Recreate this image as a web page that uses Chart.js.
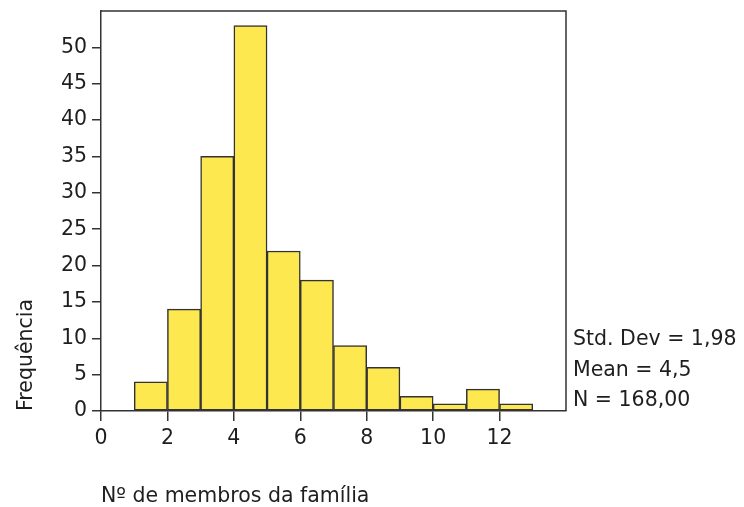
<!DOCTYPE html>
<html>
<head>
<meta charset="utf-8">
<script src="https://cdn.jsdelivr.net/npm/chart.js@4"></script>
<style>
  html, body { margin: 0; padding: 0; background: #fff; }
  #wrap { width: 744px; height: 507px; }
</style>
</head>
<body>
<div id="wrap"><canvas id="myChart"></canvas></div>
<script>
// histogram bins (centre of each unit-wide bin) and counts
var binCentres = [1.5, 2.5, 3.5, 4.5, 5.5, 6.5, 7.5, 8.5, 9.5, 10.5, 11.5, 12.5]
var counts = [4, 14, 35, 53, 22, 18, 9, 6, 2, 1, 3, 1]
var xTicks = [0, 2, 4, 6, 8, 10, 12]
var yTicks = [0, 5, 10, 15, 20, 25, 30, 35, 40, 45, 50]
var statsLines = ['Std. Dev = 1,98', 'Mean = 4,5', 'N = 168,00']

var FONT = 'DejaVu Sans'
var FSIZE = 20.5
var INK = '#1e1e1e'
var FRAME = '#333333'

var points = binCentres.map((c, i) => ({ x: c, y: counts[i] }))

// top/right frame plus the stats block beside the plot
var framePlugin = {
  id: 'frame',
  afterDraw(chart) {
    var ctx = chart.ctx
    var a = chart.chartArea
    ctx.save()
    ctx.strokeStyle = FRAME
    ctx.lineWidth = 1.5
    ctx.beginPath()
    ctx.moveTo(a.left, a.top)
    ctx.lineTo(a.right, a.top)
    ctx.lineTo(a.right, a.bottom)
    ctx.stroke()

    ctx.fillStyle = INK
    ctx.font = FSIZE + 'px "' + FONT + '"'
    ctx.textBaseline = 'middle'
    ctx.textAlign = 'left'
    statsLines.forEach((t, i) => {
      ctx.fillText(t, a.right + 7, 340 + i * 30.5)
    })
    ctx.restore()
  }
}

var ctx = document.getElementById('myChart').getContext('2d')
var myChart = new Chart(ctx, {
  type: 'bar',
  data: {
    datasets: [{
      label: 'Frequência',
      data: points,
      backgroundColor: '#fde84f',
      borderColor: FRAME,
      borderWidth: 1.5,
      borderSkipped: false,
      barPercentage: 1,
      categoryPercentage: 1
    }]
  },
  options: {
    responsive: true,
    maintainAspectRatio: false,
    animation: false,
    layout: { padding: { left: 0, right: 178, top: 11, bottom: 0 } },
    plugins: {
      legend: { display: false },
      tooltip: { enabled: false }
    },
    scales: {
      x: {
        type: 'linear',
        min: 0,
        max: 14,
        offset: false,
        afterBuildTicks: s => { s.ticks = xTicks.map(v => ({ value: v })) },
        afterFit: s => { s.height = 96; s.paddingLeft = 0; s.paddingRight = 0 },
        grid: { offset: false, drawOnChartArea: false, drawTicks: true, tickLength: 10, color: FRAME, lineWidth: 1.5 },
        border: { display: true, color: FRAME, width: 1.5 },
        ticks: { color: INK, font: { family: FONT, size: FSIZE }, padding: 5, maxRotation: 0 },
        title: {
          display: true,
          text: 'Nº de membros da família',
          align: 'start',
          color: INK,
          font: { family: FONT, size: FSIZE, lineHeight: 1 },
          padding: { top: 0, bottom: 0 }
        }
      },
      y: {
        min: 0,
        max: 55,
        afterBuildTicks: s => { s.ticks = yTicks.map(v => ({ value: v })) },
        afterFit: s => { s.width = 101; s.paddingTop = 0; s.paddingBottom = 0 },
        grid: { drawOnChartArea: false, drawTicks: true, tickLength: 9, color: FRAME, lineWidth: 1.5 },
        border: { display: true, color: FRAME, width: 1.5 },
        ticks: { color: INK, font: { family: FONT, size: FSIZE }, padding: 5 },
        title: {
          display: true,
          text: 'Frequência',
          align: 'start',
          color: INK,
          font: { family: FONT, size: FSIZE },
          padding: { top: 14, bottom: 0 }
        }
      }
    }
  },
  plugins: [framePlugin]
})
</script>
</body>
</html>
